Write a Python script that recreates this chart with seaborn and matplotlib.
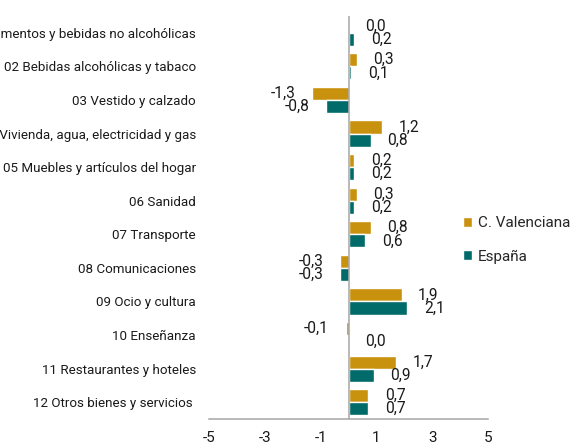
import matplotlib
matplotlib.use("Agg")
import matplotlib.pyplot as plt
import seaborn as sns
import pandas as pd

categories = [
    "01 Alimentos y bebidas no alcohólicas",
    "02 Bebidas alcohólicas y tabaco",
    "03 Vestido y calzado",
    "04 Vivienda, agua, electricidad y gas",
    "05 Muebles y artículos del hogar",
    "06 Sanidad",
    "07 Transporte",
    "08 Comunicaciones",
    "09 Ocio y cultura",
    "10 Enseñanza",
    "11 Restaurantes y hoteles",
    "12 Otros bienes y servicios ",
]
series_names = ["C. Valenciana", "España"]
valenciana = [0.0, 0.3, -1.3, 1.2, 0.2, 0.3, 0.8, -0.3, 1.9, -0.1, 1.7, 0.7]
espana = [0.2, 0.1, -0.8, 0.8, 0.2, 0.2, 0.6, -0.3, 2.1, 0.0, 0.9, 0.7]
x_ticks = [-5, -3, -1, 1, 3, 5]
colors = ["#C9920E", "#006B68"]

df = pd.DataFrame({
    "categoria": categories * 2,
    "serie": [series_names[0]] * len(categories) + [series_names[1]] * len(categories),
    "valor": valenciana + espana,
})

sns.set_theme(style="white")
plt.rcParams["font.family"] = ["Roboto", "DejaVu Sans"]

fig = plt.figure(figsize=(5.76, 4.45), dpi=100)
ax = fig.add_axes([209 / 576, 1 - 419 / 445, (488 - 209) / 576, (419 - 16) / 445])

sns.barplot(data=df, y="categoria", x="valor", hue="serie", orient="h",
            palette=colors, ax=ax, width=0.78, saturation=1, legend=True)

ax.set_xlim(-5, 5)
ax.set_ylim(len(categories) - 0.5, -0.5)
ax.set_xticks(x_ticks)
ax.set_xticklabels([str(t) for t in x_ticks])
ax.set_xlabel("")
ax.set_ylabel("")
ax.axvline(0, color="#A6A6A6", lw=1.1, zorder=3)

for s in ["top", "right", "left"]:
    ax.spines[s].set_visible(False)
ax.spines["bottom"].set_color("#A6A6A6")
ax.spines["bottom"].set_linewidth(1.1)

ax.tick_params(axis="x", length=0, pad=9, labelsize=11, labelcolor="#1a1a1a")
ax.tick_params(axis="y", length=0, pad=9.5, labelsize=9.6, labelcolor="#1a1a1a")

for cont in ax.containers:
    labels = [f"{b.get_width():.1f}".replace(".", ",") for b in cont]
    ax.bar_label(cont, labels=labels, padding=12, fontsize=11.2, color="#1a1a1a")

handles, labs = ax.get_legend_handles_labels()
ax.legend(handles, labs, loc="center left",
          bbox_to_anchor=(463 / 576, 1 - 240 / 445), bbox_transform=fig.transFigure,
          frameon=False, fontsize=11, handlelength=0.6, handleheight=0.6,
          handletextpad=0.35, labelspacing=1.25, borderpad=0, borderaxespad=0)

fig.savefig("out.png", dpi=100)
